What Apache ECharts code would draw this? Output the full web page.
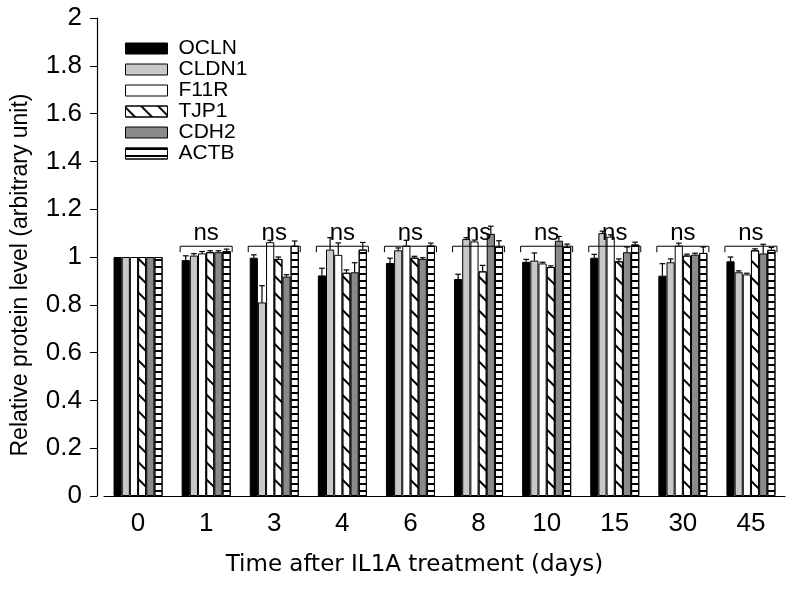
<!DOCTYPE html>
<html>
<head>
<meta charset="utf-8">
<script src="https://cdn.jsdelivr.net/npm/echarts@6/dist/echarts.min.js"></script>
<style>html,body{margin:0;padding:0;background:#fff}#c{width:800px;height:589px}</style>
</head>
<body>
<div id="c"></div>
<script>
const categories = ['0','1','3','4','6','8','10','15','30','45'];
const seriesNames = ['OCLN','CLDN1','F11R','TJP1','CDH2','ACTB'];
const OCLN      = [1, 0.987, 0.997, 0.923, 0.975, 0.908, 0.980, 0.997, 0.922, 0.982];
const OCLN_err  = [0, 0.018, 0.012, 0.030, 0.020, 0.020, 0.010, 0.014, 0.050, 0.018];
const CLDN1     = [1, 1.006, 0.810, 1.031, 1.028, 1.075, 0.985, 1.100, 0.978, 0.936];
const CLDN1_err = [0, 0.008, 0.070, 0.050, 0.010, 0.006, 0.032, 0.008, 0.014, 0.006];
const F11R      = [1, 1.015, 1.062, 1.009, 1.048, 1.065, 0.973, 1.085, 1.048, 0.927];
const F11R_err  = [0, 0.008, 0.008, 0.050, 0.022, 0.006, 0.005, 0.008, 0.010, 0.005];
const TJP1      = [1, 1.020, 0.992, 0.934, 0.997, 0.940, 0.958, 0.982, 1.006, 1.028];
const TJP1_err  = [0, 0.006, 0.008, 0.012, 0.006, 0.025, 0.005, 0.010, 0.006, 0.006];
const CDH2      = [1, 1.020, 0.918, 0.936, 0.992, 1.097, 1.068, 1.020, 1.010, 1.015];
const CDH2_err  = [0, 0.006, 0.008, 0.040, 0.005, 0.032, 0.018, 0.022, 0.006, 0.038];
const ACTB      = [1, 1.025, 1.047, 1.031, 1.048, 1.043, 1.042, 1.052, 1.017, 1.030];
const ACTB_err  = [0, 0.008, 0.020, 0.030, 0.010, 0.025, 0.012, 0.010, 0.025, 0.010];
const nsCategories = ['1','3','4','6','8','10','15','30','45'];
const nsLevel = 1.045;

const values = [OCLN, CLDN1, F11R, TJP1, CDH2, ACTB];
const errors = [OCLN_err, CLDN1_err, F11R_err, TJP1_err, CDH2_err, ACTB_err];

const GAP = 0.28;
const FONT = 'Liberation Sans, Arial, sans-serif';

const styles = [
  {color:'#000000'},
  {color:'#c8c8c8'},
  {color:'#ffffff'},
  {color:'#ffffff', decal:{symbol:'rect', symbolSize:1, dashArrayX:[1,0], dashArrayY:[1.3,10], rotation:Math.PI/4, color:'#000'}},
  {color:'#8a8a8a'},
  {color:'#ffffff', decal:{symbol:'rect', symbolSize:1, dashArrayX:[1,0], dashArrayY:[1.2,4.8], rotation:0, color:'#000'}}
];

const barSeries = seriesNames.map((n, i) => ({
  name: n,
  type: 'bar',
  data: values[i],
  barGap: '0%',
  barCategoryGap: (GAP*100) + '%',
  itemStyle: Object.assign({borderColor:'#000', borderWidth:1}, styles[i]),
  emphasis: {disabled:true},
  z: 2
}));

const errData = [];
for (let s = 0; s < 6; s++) {
  for (let c = 0; c < categories.length; c++) {
    if (errors[s][c] > 0) errData.push([c, s, values[s][c], errors[s][c]]);
  }
}

const errSeries = {
  type: 'custom',
  name: 'err',
  data: errData,
  encode: {x: 0, y: 2},
  z: 5,
  silent: true,
  renderItem: function (params, api) {
    const cat = api.value(0), s = api.value(1), v = api.value(2), e = api.value(3);
    const band = api.size([1, 0])[0];
    const groupW = band * (1 - GAP);
    const bw = groupW / 6;
    const p = api.coord([cat, v]);
    const cx = p[0] - groupW / 2 + bw * (s + 0.5);
    const yE = api.coord([cat, v + e])[1];
    const cap = 2.8;
    const st = {stroke:'#000', lineWidth:1.2};
    return {type:'group', children:[
      {type:'line', shape:{x1:cx, y1:p[1], x2:cx, y2:yE}, style:st},
      {type:'line', shape:{x1:cx-cap, y1:yE, x2:cx+cap, y2:yE}, style:st}
    ]};
  }
};

const nsSeries = {
  type: 'custom',
  name: 'ns',
  data: nsCategories.map(c => [c, nsLevel]),
  encode: {x: 0, y: 1},
  z: 6,
  silent: true,
  renderItem: function (params, api) {
    const p = api.coord([api.value(0), api.value(1)]);
    const band = api.size([1, 0])[0];
    const half = band * (1 - GAP) / 2 + 1.5;
    const st = {stroke:'#000', lineWidth:1};
    return {type:'group', children:[
      {type:'polyline', shape:{points:[[p[0]-half, p[1]+6],[p[0]-half, p[1]],[p[0]+half, p[1]],[p[0]+half, p[1]+6]]}, style:Object.assign({fill:null}, st)},
      {type:'text', style:{text:'ns', x:p[0], y:p[1]-1, align:'center', verticalAlign:'bottom', fontSize:24, fontFamily:FONT, fill:'#000'}}
    ]};
  }
};

const chart = echarts.init(document.getElementById('c'), null, {renderer:'canvas'});
chart.setOption({
  animation: false,
  backgroundColor: '#fff',
  grid: {left:104, right:15, top:18, bottom:93, containLabel:false},
  legend: {
    data: seriesNames,
    orient: 'vertical',
    left: 120,
    top: 33,
    icon: 'rect',
    itemWidth: 42,
    itemHeight: 11,
    itemGap: 0,
    selectedMode: false,
    textStyle: {fontSize:21, fontFamily:FONT, color:'#000', padding:[0,0,0,6]},
    itemStyle: {borderColor:'#000', borderWidth:1}
  },
  xAxis: {
    type: 'category',
    data: categories,
    axisLine: {lineStyle:{color:'#000', width:1.2}},
    axisTick: {alignWithLabel:true, length:7, lineStyle:{color:'#000'}},
    axisLabel: {fontSize:26, fontFamily:FONT, color:'#000', margin:15},
    name: 'Time after IL1A treatment (days)',
    nameLocation: 'middle',
    nameGap: 58,
    nameTextStyle: {fontSize:23, fontFamily:'DejaVu Sans, sans-serif', color:'#000', padding:[0,60,0,0]}
  },
  yAxis: {
    type: 'value',
    min: 0, max: 2, interval: 0.2,
    offset: 7,
    axisLine: {show:true, lineStyle:{color:'#000', width:1.2}},
    axisTick: {show:true, length:7, lineStyle:{color:'#000'}},
    splitLine: {show:false},
    axisLabel: {fontSize:26, fontFamily:FONT, color:'#000', margin:15},
    name: 'Relative protein level (arbitrary unit)',
    nameLocation: 'middle',
    nameGap: 65,
    nameRotate: 90,
    nameTextStyle: {fontSize:23, fontFamily:FONT, color:'#000', padding:[0,36,0,0]}
  },
  series: barSeries.concat([errSeries, nsSeries])
});
</script>
</body>
</html>
